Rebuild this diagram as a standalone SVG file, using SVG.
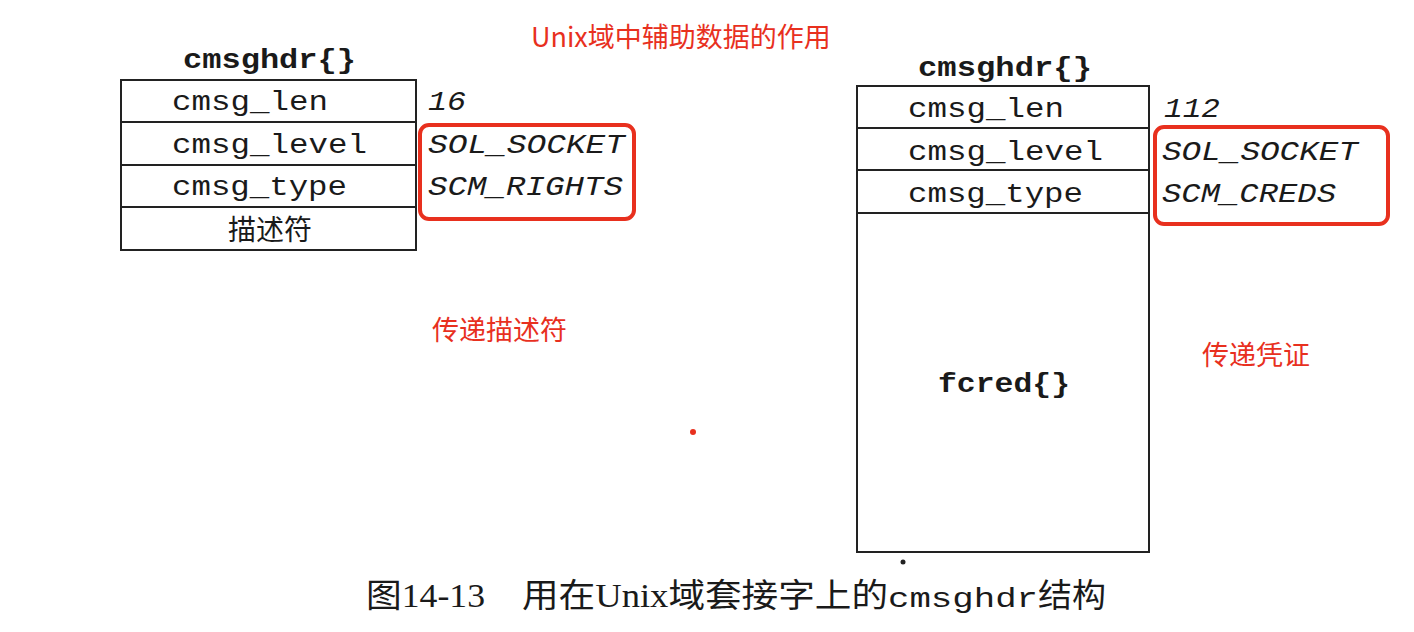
<svg xmlns="http://www.w3.org/2000/svg" width="1414" height="632" viewBox="0 0 1414 632">
<style>
.box{fill:#fff;stroke:#222;stroke-width:2}
.div{stroke:#222;stroke-width:2}
.mono{font-family:"Liberation Mono","DejaVu Sans Mono",monospace;font-size:28px;fill:#1a1a1a}
.bold{font-weight:bold}
.ital{font-style:italic}
.cjk{font-family:"Liberation Serif","Noto Sans CJK SC",serif;font-size:28px;fill:#1a1a1a}
.cap{font-family:"Liberation Serif","Noto Sans CJK SC",serif;font-size:33px;fill:#1a1a1a}
.red{font-family:"Noto Sans CJK SC","Noto Sans",sans-serif;font-size:27px;fill:#e8301e}
.hl{fill:none;stroke:#e8301e;stroke-width:4}
</style>
<rect width="1414" height="632" fill="#fff"/>
<text class="red" x="531" y="47">Unix域中辅助数据的作用</text>

<g id="left-struct">
  <text class="mono bold" x="183" y="68" textLength="173" lengthAdjust="spacingAndGlyphs">cmsghdr{}</text>
  <rect class="box" x="121" y="80" width="295" height="170"/>
  <line class="div" x1="121" y1="122" x2="416" y2="122"/>
  <line class="div" x1="121" y1="165" x2="416" y2="165"/>
  <line class="div" x1="121" y1="207" x2="416" y2="207"/>
  <text class="mono" x="172" y="110" textLength="156" lengthAdjust="spacingAndGlyphs">cmsg_len</text>
  <text class="mono" x="172" y="153" textLength="195" lengthAdjust="spacingAndGlyphs">cmsg_level</text>
  <text class="mono" x="172" y="195" textLength="175" lengthAdjust="spacingAndGlyphs">cmsg_type</text>
  <text class="cjk" x="270" y="240" text-anchor="middle">描述符</text>
  <text class="mono ital" x="428" y="110" textLength="38" lengthAdjust="spacingAndGlyphs">16</text>
  <text class="mono ital" x="428" y="153" textLength="197" lengthAdjust="spacingAndGlyphs">SOL_SOCKET</text>
  <text class="mono ital" x="428" y="195" textLength="195" lengthAdjust="spacingAndGlyphs">SCM_RIGHTS</text>
  <rect class="hl" x="420" y="125" width="214" height="94" rx="9"/>
</g>
<text class="red" x="432" y="340" font-size="28">传递描述符</text>

<g id="right-struct">
  <text class="mono bold" x="918" y="76" textLength="174" lengthAdjust="spacingAndGlyphs">cmsghdr{}</text>
  <rect class="box" x="857" y="86" width="292" height="466"/>
  <line class="div" x1="857" y1="128" x2="1149" y2="128"/>
  <line class="div" x1="857" y1="170" x2="1149" y2="170"/>
  <line class="div" x1="857" y1="213" x2="1149" y2="213"/>
  <text class="mono" x="908" y="117" textLength="156" lengthAdjust="spacingAndGlyphs">cmsg_len</text>
  <text class="mono" x="908" y="160" textLength="195" lengthAdjust="spacingAndGlyphs">cmsg_level</text>
  <text class="mono" x="908" y="202" textLength="175" lengthAdjust="spacingAndGlyphs">cmsg_type</text>
  <text class="mono bold" x="938" y="392" textLength="132" lengthAdjust="spacingAndGlyphs">fcred{}</text>
  <text class="mono ital" x="1164" y="117" textLength="56" lengthAdjust="spacingAndGlyphs">112</text>
  <text class="mono ital" x="1162" y="160" textLength="196" lengthAdjust="spacingAndGlyphs">SOL_SOCKET</text>
  <text class="mono ital" x="1162" y="202" textLength="174" lengthAdjust="spacingAndGlyphs">SCM_CREDS</text>
  <rect class="hl" x="1155" y="127" width="233" height="97" rx="9"/>
  <circle cx="903" cy="562" r="2.5" fill="#222"/>
</g>
<text class="red" x="1202" y="365" font-size="28">传递凭证</text>
<circle cx="693" cy="432" r="3" fill="#e8301e"/>

<g id="caption">
  <text class="cap" x="366" y="607" textLength="119" lengthAdjust="spacingAndGlyphs">图14-13</text>
  <text class="cap" x="522" y="607" textLength="366" lengthAdjust="spacingAndGlyphs">用在Unix域套接字上的</text>
  <text class="mono" x="888" y="607" font-size="32" textLength="150" lengthAdjust="spacingAndGlyphs">cmsghdr</text>
  <text class="cap" x="1038" y="607" textLength="68" lengthAdjust="spacingAndGlyphs">结构</text>
</g>
</svg>
